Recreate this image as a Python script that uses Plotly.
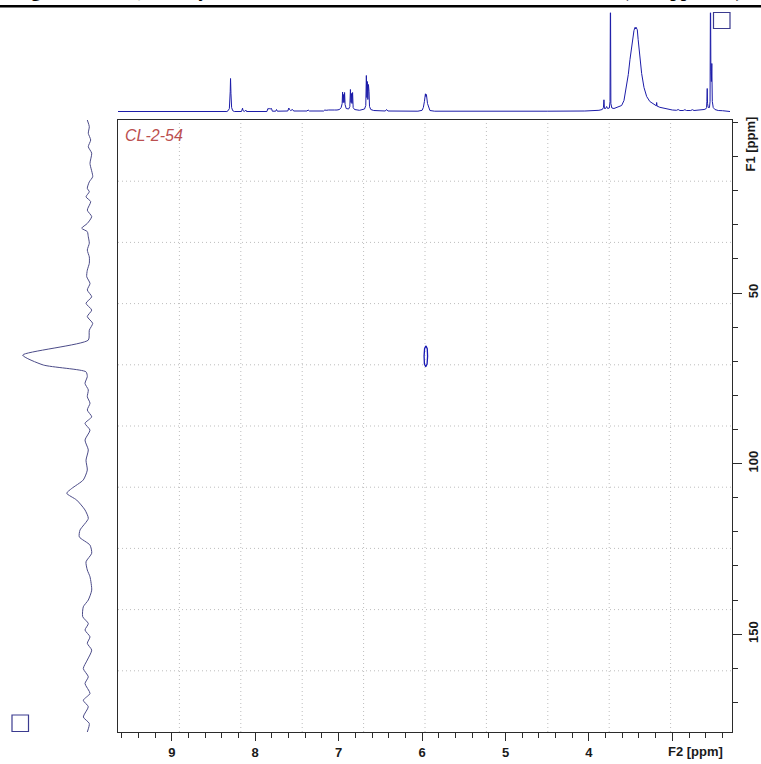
import plotly.graph_objects as go

# ---------------- data ----------------
f2_range = [9.645, 2.285]          # 1H axis (ppm), reversed
f1_range = [178.7, -0.73]          # 13C axis (ppm), reversed (top = -0.73)
f2_tickvals = [9, 8, 7, 6, 5, 4, 3]
f2_ticktext = ["9", "8", "7", "6", "5", "4", ""]
f1_tickvals = [50, 100, 150]
f1_ticktext = ["50", "100", "150"]
sample_label = "CL-2-54"
title_text = "Figure S5. HSQC Analysis of CL-2-54 in DMSO-d6 at 400 MHz and 298 K (see Appendix)"

# 1H projection (top)
h1_ppm = [9.645, 8.34, 8.325, 8.31, 8.300, 8.296, 8.291, 8.283, 8.27, 8.25,
          8.165, 8.155, 8.152, 8.147, 8.13, 8.113, 8.105,
          7.86, 7.848, 7.835, 7.825, 7.812, 7.805, 7.795,
          7.755, 7.745, 7.735,
          7.61, 7.597, 7.59, 7.575, 7.553, 7.54,
          7.38, 7.366, 7.35,
          7.18, 7.166, 7.15, 7.12, 7.09, 7.05, 7.02, 6.99,
          6.97, 6.958, 6.953, 6.947, 6.941, 6.935, 6.929, 6.923, 6.91,
          6.88, 6.866, 6.859, 6.852, 6.846, 6.840, 6.833, 6.826, 6.81,
          6.75, 6.69, 6.675, 6.668, 6.662, 6.656, 6.650, 6.643, 6.636, 6.630, 6.615, 6.58,
          6.44, 6.426, 6.41,
          6.05, 6.0, 5.985, 5.972, 5.960, 5.954, 5.948, 5.935, 5.92, 5.906, 5.85,
          5.0, 4.5, 4.05,
          3.96, 3.94, 3.925, 3.904, 3.88, 3.84, 3.826, 3.82, 3.814, 3.80, 3.788, 3.776,
          3.755, 3.747, 3.742, 3.737, 3.725,
          3.70, 3.688, 3.65, 3.608, 3.58, 3.548, 3.528, 3.508, 3.49, 3.476, 3.46, 3.448,
          3.44, 3.436, 3.428, 3.42, 3.41, 3.397, 3.38, 3.368, 3.34, 3.308, 3.27, 3.23,
          3.2, 3.192, 3.188, 3.184, 3.15, 3.109, 3.05, 3.0,
          2.95, 2.93, 2.91, 2.87, 2.85, 2.83, 2.78, 2.76, 2.74, 2.70, 2.67, 2.65, 2.62,
          2.60, 2.59, 2.586, 2.582, 2.578, 2.57, 2.555, 2.548, 2.543, 2.538, 2.532, 2.527,
          2.521, 2.51, 2.49, 2.45, 2.40, 2.35, 2.309]
h1_int = [0, 0, 0.8, 3, 20, 33, 18, 4, 0.8, 0,
          0, 2.5, 3.3, 1, 0, 1.5, 0,
          0, 3, 2.5, 3, 2.5, 3, 0.3,
          0.3, 2, 0.3,
          0.5, 3.5, 2, 1, 2, 0.5,
          0.5, 1.5, 0.5,
          0.5, 1.5, 1.2, 1.5, 1.2, 1.5, 1.5, 2,
          4, 8, 19.5, 9, 17, 9, 19, 7, 3,
          2.5, 5, 22, 9, 18, 8, 19, 4, 2,
          1.2, 2.5, 6, 36, 14, 30, 12, 27, 20, 5, 2, 1,
          0.5, 2, 0.5,
          0.3, 1.2, 4, 10, 17.7, 15, 17, 8, 3, 1, 0.3,
          0, 0.3, 0.5,
          0.8, 1.5, 0.8, 1.5, 1.2, 2, 4, 11.7, 3, 3, 5, 3,
          3.5, 10, 130, 8, 3.5,
          3, 3.3, 4.5, 6, 11, 25, 37, 52, 64, 75, 81, 84,
          82.5, 84.3, 83, 81.7, 72, 61.7, 48, 38, 24, 15, 10, 7.5,
          6, 5.7, 9, 5.5, 4.2, 3.3, 2.2, 1.5,
          1.2, 2, 1, 1, 1.8, 1, 1, 1.8, 1, 1.2, 1.8, 1.2, 2,
          2.5, 4, 10, 23, 8, 4, 4, 10, 130, 40, 30, 48,
          10, 4, 2, 1, 0.8, 0.3, 0]

# 13C projection (left)
c13_ppm = [-0.73, 1.23, 3.17, 5.13, 7.1, 9.0, 12.0, 15.9, 17.4, 19.3, 20.3, 21.8, 23.2,
           25.7, 27.6, 29.6, 31.0, 32.0, 33.5, 35.4, 37.4, 39.4, 41.3, 43.3, 45.2, 47.2,
           49.1, 51.1, 53.0, 55.0, 56.9, 58.9, 60.9, 63.8, 68.2, 71.1, 73.1, 74.5, 76.5,
           78.4, 80.4, 82.3, 84.3, 86.3, 88.2, 90.2, 93.1, 96.0, 99.0, 101.9, 104.8, 107.3,
           108.7, 110.7, 113.6, 116.1, 119.5, 121.5, 123.9, 126.3, 128.8, 131.2, 133.2,
           137.1, 140.0, 142.0, 144.9, 146.9, 148.8, 150.8, 152.7, 154.7, 157.6, 160.1,
           162.5, 164.5, 167.4, 169.4, 171.3, 174.3, 176.2, 178.7]
c13_int = [7.7, 5.7, 6.7, 4.3, 6.7, 3.3, 5, 2.3, 5.7, 7.7, 5.7, 9, 4.3,
           7.7, 3.3, 7.7, 13.3, 7.7, 6.7, 5.7, 7.7, 5.7, 5.7, 7.7, 8.3, 5,
           7.7, 3.3, 9, 3.3, 7.7, 2.3, 5.7, 6.7, 72.3, 51.7, 9, 7.7, 10,
           6.7, 7.7, 5, 7.7, 3.3, 10, 5, 10, 6.7, 9, 7.7, 11.7, 23.3,
           28.3, 18.3, 10, 6.7, 15, 15.7, 5, 3.3, 9, 7.7, 5,
           3.3, 6.7, 11.7, 12.3, 6.7, 10, 5, 7.7, 3.3, 7.7, 11.7,
           6.7, 10, 5, 11.7, 6.7, 11.7, 5.7, 7.7]

# HSQC cross peak contour (F2 ppm, F1 ppm)
cross_f2 = [5.954, 5.970, 5.976, 5.972, 5.956, 5.940, 5.934, 5.938, 5.954]
cross_f1 = [65.5, 66.3, 68.5, 70.8, 71.6, 70.8, 68.5, 66.3, 65.5]

# ---------------- figure ----------------
W, H = 761, 764
def px_x(p):
    return p / W
def px_y(p):
    return 1 - p / H

box_x = [px_x(118), px_x(732)]
box_y = [px_y(732), px_y(120)]

tick_font = dict(family="Liberation Sans, Arial, sans-serif", size=13, color="#1a1a1a", weight="bold")

fig = go.Figure()
fig.add_trace(go.Scatter(x=h1_ppm, y=h1_int, xaxis="x2", yaxis="y2", mode="lines",
                         line=dict(color="#1c1ca8", width=1), hoverinfo="skip", showlegend=False))
fig.add_trace(go.Scatter(x=c13_int, y=c13_ppm, xaxis="x3", yaxis="y3", mode="lines",
                         line=dict(color="#4b4b88", width=1, shape="spline", smoothing=0.6),
                         hoverinfo="skip", showlegend=False))
fig.add_trace(go.Scatter(x=cross_f2, y=cross_f1, mode="lines",
                         line=dict(color="#1a1ab4", width=1.3), hoverinfo="skip", showlegend=False))

shapes = []
grid_line = dict(color="#bdbdbd", width=1, dash="1px,3px")
for k in range(1, 10):
    shapes.append(dict(type="line", xref="x domain", yref="y domain", x0=k / 10, x1=k / 10,
                       y0=0, y1=1, line=grid_line, layer="below"))
    shapes.append(dict(type="line", xref="x domain", yref="y domain", y0=k / 10, y1=k / 10,
                       x0=0, x1=1, line=grid_line, layer="below"))
# title underline
shapes.append(dict(type="line", xref="paper", yref="paper", x0=0, x1=1,
                   y0=px_y(6.2), y1=px_y(6.2), line=dict(color="black", width=2.4)))
# the two small squares
sq_line = dict(color="#3b3b8f", width=1.2)
shapes.append(dict(type="rect", xref="paper", yref="paper", x0=px_x(713.5), x1=px_x(730),
                   y0=px_y(28.5), y1=px_y(12.5), line=sq_line))
shapes.append(dict(type="rect", xref="paper", yref="paper", x0=px_x(12), x1=px_x(28.5),
                   y0=px_y(731.5), y1=px_y(715), line=sq_line))

annotations = [
    dict(text="F2 [ppm]", xref="paper", yref="paper", x=px_x(695.5), y=px_y(751.5),
         xanchor="center", yanchor="middle", showarrow=False, font=tick_font),
    dict(text="F1 [ppm]", xref="paper", yref="paper", x=px_x(750.5), y=px_y(144),
         xanchor="center", yanchor="middle", showarrow=False, font=tick_font, textangle=-90),
    dict(text=sample_label, xref="paper", yref="paper", x=px_x(123), y=px_y(135),
         xanchor="left", yanchor="middle", showarrow=False,
         font=dict(family="Liberation Sans, Arial, sans-serif", size=16, color="#bb4f4f", style="italic")),
    dict(text=title_text, xref="paper", yref="paper", x=px_x(12), y=1, xanchor="left",
         yanchor="bottom", yshift=-4, showarrow=False,
         font=dict(family="Liberation Serif, Times New Roman, serif", size=19, color="black", weight="bold")),
]

fig.update_layout(
    width=W, height=H, autosize=False,
    margin=dict(l=0, r=0, t=0, b=0, pad=0),
    paper_bgcolor="white", plot_bgcolor="white",
    showlegend=False,
    xaxis=dict(domain=box_x, range=f2_range, anchor="y", showgrid=False, zeroline=False,
               showline=True, mirror=True, linecolor="#2b2b2b", linewidth=1,
               ticks="outside", tickvals=f2_tickvals, ticktext=f2_ticktext, ticklen=8,
               tickcolor="#2b2b2b", tickwidth=1, tickfont=tick_font,
               minor=dict(ticks="outside", dtick=0.2, tick0=0, ticklen=4.5,
                          tickcolor="#2b2b2b", showgrid=False)),
    yaxis=dict(domain=box_y, range=f1_range, anchor="x", side="right", showgrid=False,
               zeroline=False, showline=True, mirror=True, linecolor="#2b2b2b", linewidth=1,
               ticks="outside", tickvals=f1_tickvals, ticktext=f1_ticktext, ticklen=9,
               tickcolor="#2b2b2b", tickwidth=1, tickfont=tick_font, tickangle=-90,
               minor=dict(ticks="outside", dtick=10, tick0=0, ticklen=4.5,
                          tickcolor="#2b2b2b", showgrid=False)),
    xaxis2=dict(domain=box_x, range=f2_range, anchor="y2", visible=False),
    yaxis2=dict(domain=[px_y(114), px_y(12.7)], range=[-2.5, 98.8], anchor="x2", visible=False),
    xaxis3=dict(domain=[0, px_x(118)], range=[95, -23], anchor="y3", visible=False),
    yaxis3=dict(domain=box_y, range=f1_range, anchor="x3", visible=False),
    shapes=shapes,
    annotations=annotations,
)

fig.write_html("out.html")
